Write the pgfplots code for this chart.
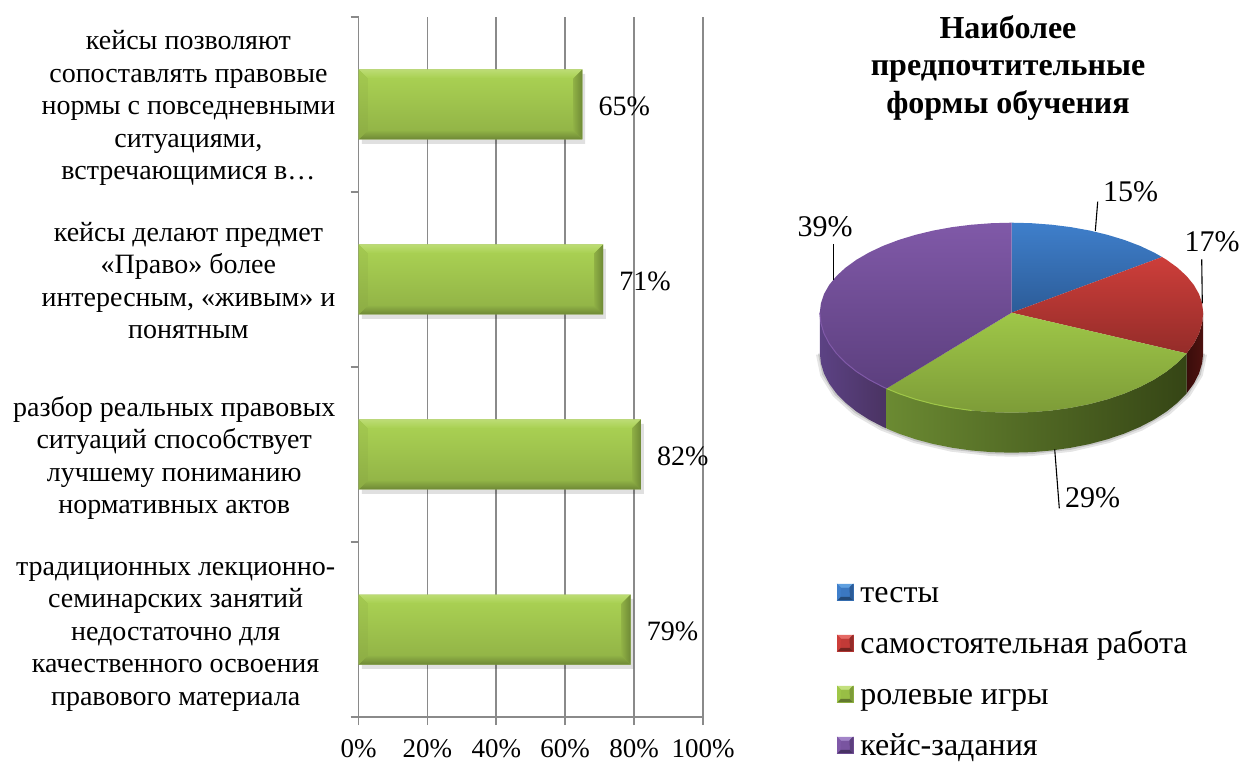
\documentclass[border=0pt]{standalone}
\usepackage{fontspec}
\setmainfont{Liberation Serif}
\usepackage{pgfplots}
\pgfplotsset{compat=1.18}
\definecolor{gridg}{HTML}{8A8A8A}
\newcommand\lab[2][0pt]{\begin{tabular}{@{}c@{\hspace{#1}}}#2\end{tabular}}
\newcommand\bevel[9]{%
 \addplot[forget plot,draw=none,fill=black,opacity=.12] coordinates {(1,#6) (1,#8) (#7,#8) (#7,#9) (#1,#9) (#1,#6)};
 \addplot[forget plot,draw=none,top color=barF,bottom color=barG] coordinates {(2.6,#4) (#2,#4) (#2,#5) (2.6,#5)};
 \addplot[forget plot,draw=none,top color=barT,bottom color=barE] coordinates {(0,#3) (#1,#3) (#2,#4) (2.6,#4)};
 \addplot[forget plot,draw=none,top color=barD,bottom color=barB] coordinates {(2.6,#5) (#2,#5) (#1,#6) (0,#6)};
 \addplot[forget plot,draw=none,top color=barLa,bottom color=barLb] coordinates {(0,#3) (2.6,#4) (2.6,#5) (0,#6)};
 \addplot[forget plot,draw=none,left color=barRa,right color=barRb] coordinates {(#1,#3) (#2,#4) (#2,#5) (#1,#6)};
}
\definecolor{barT}{HTML}{BCDC74}
\definecolor{barE}{HTML}{A8D050}
\definecolor{barF}{HTML}{A8CF52}
\definecolor{barG}{HTML}{93B547}
\definecolor{barD}{HTML}{90B246}
\definecolor{barB}{HTML}{6D8735}
\definecolor{barLa}{HTML}{A4CA50}
\definecolor{barLb}{HTML}{8CAC44}
\definecolor{barRa}{HTML}{8FB045}
\definecolor{barRb}{HTML}{6E8935}
\definecolor{blueT}{HTML}{3F7FCB}
\definecolor{blueB}{HTML}{2C5C98}
\definecolor{blueL}{HTML}{5FA0E0}
\definecolor{blueD}{HTML}{234A78}
\definecolor{redT}{HTML}{CD3E3A}
\definecolor{redB}{HTML}{942C29}
\definecolor{redL}{HTML}{E56A66}
\definecolor{redD}{HTML}{752320}
\definecolor{greenT}{HTML}{9FC748}
\definecolor{greenB}{HTML}{7D9C38}
\definecolor{greenL}{HTML}{C3E07E}
\definecolor{greenD}{HTML}{62782E}
\definecolor{purpleT}{HTML}{8059A8}
\definecolor{purpleB}{HTML}{5C3F7E}
\definecolor{purpleL}{HTML}{A284C8}
\definecolor{purpleD}{HTML}{483264}
\definecolor{redsideA}{HTML}{3A0D0B}
\definecolor{redsideB}{HTML}{4E120F}
\definecolor{grsideA}{HTML}{6B8A32}
\definecolor{grsideB}{HTML}{3F5220}
\definecolor{grsideC}{HTML}{354515}
\definecolor{pusideA}{HTML}{5C4284}
\definecolor{pusideB}{HTML}{4A3362}
\newcommand\lkey[5]{%
 \begin{scope}[yshift=2.5pt]
 \fill[#1] (0pt,-8pt) rectangle (16pt,8pt);
 \fill[#2] (0pt,8pt)--(16pt,8pt)--(12.5pt,4.5pt)--(3.5pt,4.5pt)--cycle;
 \fill[#3] (0pt,-8pt)--(16pt,-8pt)--(13pt,-5pt)--(3pt,-5pt)--cycle;
 \fill[#4] (0pt,8pt)--(3.5pt,4.5pt)--(3pt,-5pt)--(0pt,-8pt)--cycle;
 \fill[#5] (16pt,8pt)--(12.5pt,4.5pt)--(13pt,-5pt)--(16pt,-8pt)--cycle;
 \end{scope}
}
\begin{document}
\begin{tikzpicture}[font=\fontsize{27}{31}\selectfont]
\path[use as bounding box] (0pt,0pt) rectangle (1242pt,761pt);
\begin{axis}[
  at={(358.5pt,44pt)}, anchor=south west, scale only axis,
  width=344.5pt, height=700pt,
  xmin=0, xmax=100, ymin=0, ymax=4,
  axis lines*=left, clip=false,
  axis line style={gridg,line width=1.8pt},
  xtick={0,20,40,60,80,100},
  xticklabels={0\%,20\%,40\%,60\%,80\%,100\%},
  ytick={0.5,1.5,2.5,3.5},
  yticklabels={
    {\lab{традиционных лекционно-\\семинарских занятий\\недостаточно для\\качественного освоения\\правового материала}},
    {\lab{разбор реальных правовых\\ситуаций способствует\\лучшему пониманию\\нормативных актов}},
    {\lab{кейсы делают предмет\\«Право» более\\интересным, «живым» и\\понятным}},
    {\lab{кейсы позволяют\\сопоставлять правовые\\нормы с повседневными\\ситуациями,\\встречающимися в…}}},
  minor ytick={0,1,2,3,4},
  major tick length=8pt, minor tick length=8pt,
  tick align=outside,
  tick style={gridg,line width=1.8pt},
  major y tick style={draw=none},
  xmajorgrids,
  grid style={gridg,line width=1.8pt},
  x tick label style={inner sep=0pt,yshift=-14pt},
  y tick label style={inner sep=0pt,xshift=-15pt,yshift=-4pt,font=\fontsize{28}{32.5}\selectfont},
  xbar, bar width=70pt,
  point meta=x,
  nodes near coords={\pgfmathprintnumber[assume math mode=true]{\pgfplotspointmeta}\%},
  nodes near coords align={horizontal},
  every node near coord/.append style={inner sep=0pt,xshift=16pt,yshift=-2pt,black,font=\fontsize{28}{32}\selectfont},
]
\addplot[draw=none,fill=barG,mark=none] coordinates {(79,0.5) (82,1.5) (71,2.5) (65,3.5)};
\end{axis}
\begin{axis}[
  at={(358.5pt,44pt)}, anchor=south west, scale only axis,
  width=344.5pt, height=700pt,
  xmin=0, xmax=100, ymin=0, ymax=4, hide axis, clip=false,
]
\bevel{65}{62.4}{3.7}{3.649}{3.351}{3.3}{65.8}{3.275}{3.675}
\bevel{71}{68.4}{2.7}{2.649}{2.351}{2.3}{71.8}{2.275}{2.675}
\bevel{82}{79.4}{1.7}{1.649}{1.351}{1.3}{82.8}{1.275}{1.675}
\bevel{79}{76.4}{0.7}{0.649}{0.351}{0.3}{79.8}{0.275}{0.675}
\end{axis}
\begin{axis}[
  at={(780pt,241pt)}, anchor=south west, scale only axis,
  width=462pt, height=350pt,
  xmin=-231.5, xmax=230.5, ymin=-207.3, ymax=142.7,
  hide axis, clip=false,
  legend cell align=left,
  legend style={at={(axis cs:-174.5,-267.3)},anchor=north west,draw=none,fill=none,inner sep=0pt,outer sep=0pt,
    row sep=22pt,column sep=7pt,font=\fontsize{32}{36}\selectfont,nodes={inner ysep=0pt,inner xsep=0pt,text height=22pt,text depth=7pt}},
]
% shadow
\addplot[forget plot,draw=none,fill=black,opacity=.10] coordinates {(195.5,-42) (191.2,-63.2) (178.6,-83.5) (158.2,-102) (130.8,-117.8) (97.8,-130.3) (60.4,-139) (20.4,-143.4) (0,-144) (-20.4,-143.4) (-60.4,-139) (-97.8,-130.3) (-130.8,-117.8) (-158.2,-102) (-178.6,-83.5) (-191.2,-63.2) (-195.5,-42)};
\addplot[forget plot,draw=none,fill=black,opacity=.14] coordinates {(193.5,-41) (189.3,-62) (176.8,-82.1) (156.5,-100.4) (129.5,-116) (96.8,-128.5) (59.8,-137) (20.2,-141.4) (0,-142) (-20.2,-141.4) (-59.8,-137) (-96.8,-128.5) (-129.5,-116) (-156.5,-100.4) (-176.8,-82.1) (-189.3,-62) (-193.5,-41)};
% sides
\addplot[forget plot,draw=none,left color=redsideA,right color=redsideB] coordinates {(191.7,0) (190.6,-10.45) (187.5,-20.8) (182.3,-30.9) (175.1,-40.7) (175.1,-80.7) (182.3,-70.9) (187.5,-60.8) (190.6,-50.45) (191.7,-40)};
\addplot[forget plot,draw=none,left color=grsideA,middle color=grsideB,right color=grsideC] coordinates {(175.1,-40.7) (166,-50) (155.1,-58.8) (142.5,-66.9) (128.3,-74.3) (112.7,-80.9) (95.9,-86.6) (78,-91.35) (59.2,-95.1) (39.9,-97.8) (20,-99.45) (0,-100) (-20,-99.45) (-39.9,-97.8) (-59.2,-95.1) (-78,-91.35) (-95.9,-86.6) (-112.7,-80.9) (-125,-75.8) (-125,-115.8) (-112.7,-120.9) (-95.9,-126.6) (-78,-131.35) (-59.2,-135.1) (-39.9,-137.8) (-20,-139.45) (0,-140) (20,-139.45) (39.9,-137.8) (59.2,-135.1) (78,-131.35) (95.9,-126.6) (112.7,-120.9) (128.3,-114.3) (142.5,-106.9) (155.1,-98.8) (166,-90) (175.1,-80.7)};
\addplot[forget plot,draw=none,left color=pusideA,right color=pusideB] coordinates {(-125,-75.8) (-128.3,-74.3) (-142.5,-66.9) (-155.1,-58.8) (-166,-50) (-175.1,-40.7) (-182.3,-30.9) (-187.5,-20.8) (-190.6,-10.45) (-191.7,0) (-191.7,-40) (-190.6,-50.45) (-187.5,-60.8) (-182.3,-70.9) (-175.1,-80.7) (-166,-90) (-155.1,-98.8) (-142.5,-106.9) (-128.3,-114.3) (-125,-115.8)};
% top faces
\addplot[forget plot,draw=none,top color=blueT,bottom color=blueB] coordinates {(0,0) (0,90) (20,89.5) (39.9,88) (59.2,85.6) (78,82.2) (95.9,77.9) (112.7,72.8) (128.3,66.9) (142.5,60.2) (150.5,55.7)};
\addplot[forget plot,draw=none,top color=redT,bottom color=redB] coordinates {(0,0) (150.5,55.7) (155.1,52.9) (166,45) (175.1,36.6) (182.3,27.8) (187.5,18.7) (190.6,9.4) (191.7,0) (190.6,-10.45) (187.5,-20.8) (182.3,-30.9) (175.1,-40.7)};
\addplot[forget plot,draw=none,top color=greenT,bottom color=greenB] coordinates {(0,0) (175.1,-40.7) (166,-50) (155.1,-58.8) (142.5,-66.9) (128.3,-74.3) (112.7,-80.9) (95.9,-86.6) (78,-91.35) (59.2,-95.1) (39.9,-97.8) (20,-99.45) (0,-100) (-20,-99.45) (-39.9,-97.8) (-59.2,-95.1) (-78,-91.35) (-95.9,-86.6) (-112.7,-80.9) (-125,-75.8)};
\addplot[forget plot,draw=none,top color=purpleT,bottom color=purpleB] coordinates {(0,0) (-125,-75.8) (-128.3,-74.3) (-142.5,-66.9) (-155.1,-58.8) (-166,-50) (-175.1,-40.7) (-182.3,-30.9) (-187.5,-20.8) (-190.6,-10.45) (-191.7,0) (-190.6,9.4) (-187.5,18.7) (-182.3,27.8) (-175.1,36.6) (-166,45) (-155.1,52.9) (-142.5,60.2) (-128.3,66.9) (-112.7,72.8) (-95.9,77.9) (-78,82.2) (-59.2,85.6) (-39.9,88) (-20,89.5) (0,90)};
% rim highlights
\addplot[forget plot,color=greenT,line width=1pt,mark=none] coordinates {(-125,-75.8) (-112.7,-80.9) (-95.9,-86.6) (-78,-91.35) (-59.2,-95.1) (-39.9,-97.8)};
\addplot[forget plot,color=purpleT,line width=1pt,mark=none] coordinates {(-125,-75.8) (-128.3,-74.3) (-142.5,-66.9) (-155.1,-58.8) (-166,-50) (-175.1,-40.7) (-182.3,-30.9) (-187.5,-20.8) (-190.6,-10.45) (-191.7,0)};
% leader lines
\addplot[forget plot,black,line width=1.1pt,mark=none] coordinates {(86.2,111) (83.8,81.7)};
\addplot[forget plot,black,line width=1.1pt,mark=none] coordinates {(190.2,53.4) (190.8,9.4)};
\addplot[forget plot,black,line width=1.1pt,mark=none] coordinates {(43.2,-136.6) (47.8,-195.6)};
\addplot[forget plot,black,line width=1.1pt,mark=none] coordinates {(-178.2,68.7) (-178.2,32.7)};
\node[inner sep=0pt,font=\fontsize{30}{34}\selectfont] at (axis cs:119.2,121) {15\%};
\node[inner sep=0pt,font=\fontsize{30}{34}\selectfont] at (axis cs:200.5,71) {17\%};
\node[inner sep=0pt,font=\fontsize{30}{34}\selectfont] at (axis cs:81.2,-185.3) {29\%};
\node[inner sep=0pt,font=\fontsize{30}{34}\selectfont] at (axis cs:-186.5,86) {39\%};
\node[align=center,inner sep=0pt,font=\fontsize{32}{37.5}\selectfont\bfseries] at (axis cs:-3.5,245) {Наиболее\\предпочтительные\\формы обучения};
\addlegendimage{legend image code/.code={\lkey{blueT!80!blueB}{blueL}{blueD}{blueT}{blueB}}}
\addlegendentry{тесты}
\addlegendimage{legend image code/.code={\lkey{redT!80!redB}{redL}{redD}{redT}{redB}}}
\addlegendentry{самостоятельная работа}
\addlegendimage{legend image code/.code={\lkey{greenT!80!greenB}{greenL}{greenD}{greenT}{greenB}}}
\addlegendentry{ролевые игры}
\addlegendimage{legend image code/.code={\lkey{purpleT!80!purpleB}{purpleL}{purpleD}{purpleT}{purpleB}}}
\addlegendentry{кейс-задания}
\end{axis}
\end{tikzpicture}
\end{document}
